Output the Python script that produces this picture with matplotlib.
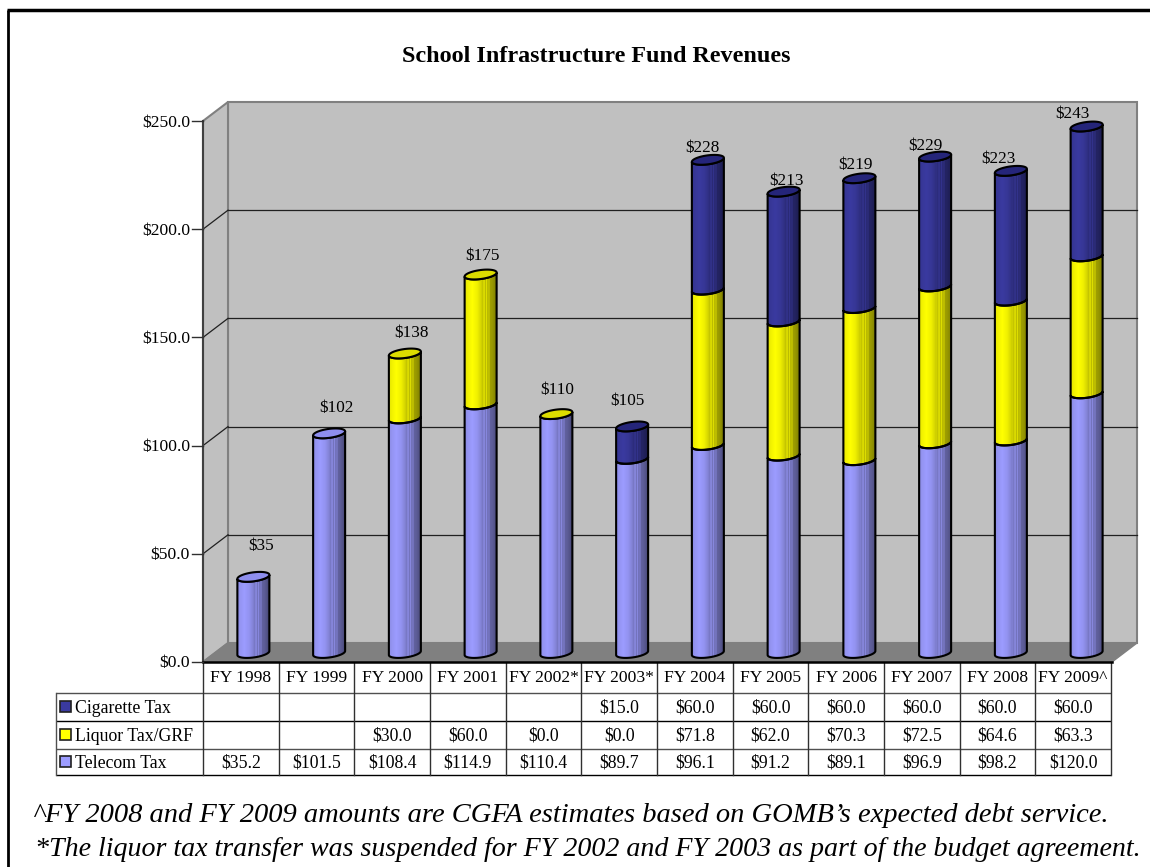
import numpy as np
import matplotlib
matplotlib.use('Agg')
import matplotlib.pyplot as plt
from matplotlib.patches import Polygon, PathPatch, Rectangle
from matplotlib.path import Path

plt.rcParams['font.family'] = ['Liberation Serif', 'DejaVu Serif']

years = ['FY 1998', 'FY 1999', 'FY 2000', 'FY 2001', 'FY 2002*', 'FY 2003*',
         'FY 2004', 'FY 2005', 'FY 2006', 'FY 2007', 'FY 2008', 'FY 2009^']
telecom = [35.2, 101.5, 108.4, 114.9, 110.4, 89.7, 96.1, 91.2, 89.1, 96.9, 98.2, 120.0]
liquor = [None, None, 30.0, 60.0, 0.0, 0.0, 71.8, 62.0, 70.3, 72.5, 64.6, 63.3]
cigarette = [None, None, None, None, None, 15.0, 60.0, 60.0, 60.0, 60.0, 60.0, 60.0]
totals = ['$35', '$102', '$138', '$175', '$110', '$105', '$228', '$213', '$219', '$229', '$223', '$243']
yticks = [0, 50, 100, 150, 200, 250]
series_names = ['Cigarette Tax', 'Liquor Tax/GRF', 'Telecom Tax']

title = 'School Infrastructure Fund Revenues'
note1 = '^FY 2008 and FY 2009 amounts are CGFA estimates based on GOMB\u2019s expected debt service.'
note2 = '*The liquor tax transfer was suspended for FY 2002 and FY 2003 as part of the budget agreement.'

# colours: (side, cap)
TELECOM_C = ('#9C9CFF', '#8E8EEE')
LIQUOR_C = ('#FFFF00', '#DCDC00')
CIG_C = ('#3A3AA0', '#25257A')

# pixel layout of the front plane
LEFT, RIGHT, BOTTOM, TOP = 203, 1112, 662, 121
W, H = 1150, 867
DEPTH_X, DEPTH_Y = 25, 19
PX_X = 12 / (RIGHT - LEFT)
PX_Y = 250 / (BOTTOM - TOP)

# how far each total label sits above its bar top (px), plus a sideways nudge
label_up = [31, 25, 21, 19, 24, 25, 12, 11, 13, 11, 12, 12]
label_side = [8, 7, 7, 2, 1, -5, -5, 3, -4, -10, -12, -14]

fig = plt.figure(figsize=(W / 100, H / 100), dpi=100)
pg = fig.add_axes([0, 0, 1, 1])
pg.set_xlim(0, W)
pg.set_ylim(H, 0)
pg.axis('off')

ax = fig.add_axes([LEFT / W, 1 - BOTTOM / H, (RIGHT - LEFT) / W, (BOTTOM - TOP) / H])
ax.patch.set_alpha(0)
ax.axis('off')

ddx, ddy = DEPTH_X * PX_X, DEPTH_Y * PX_Y
GREY = '#808080'

# walls and floor
ax.add_patch(Rectangle((ddx, ddy), 12, 250, fc='#C0C0C0', ec=GREY, lw=1.5, zorder=1, clip_on=False))
ax.add_patch(Polygon([(0, 0), (ddx, ddy), (ddx, 250 + ddy), (0, 250)], fc='#C0C0C0', ec=GREY, lw=1.5,
                     zorder=1, clip_on=False))
ax.add_patch(Polygon([(0, 0), (ddx, ddy), (12 + ddx, ddy), (12, 0)], fc=GREY, ec=GREY, lw=1, zorder=2,
                     clip_on=False))
for t in yticks[1:-1]:
    ax.plot([ddx, 12 + ddx], [t + ddy, t + ddy], color='#202020', lw=0.9, zorder=2, clip_on=False)
    ax.plot([0, ddx], [t, t + ddy], color='#202020', lw=0.9, zorder=2, clip_on=False)
ax.plot([0, 0], [0, 250], color='#404040', lw=1.5, zorder=3, clip_on=False)
ax.plot([0, 12], [0, 0], color='black', lw=1.8, zorder=3, clip_on=False)
for t in yticks:
    ax.plot([-11 * PX_X, 0], [t, t], color='#303030', lw=1, zorder=3, clip_on=False)
    ax.text(-13 * PX_X, t - 1.5 * PX_Y, '$%.1f' % t, ha='right', va='center', fontsize=12.6, zorder=5)

# cylinder shading, left to right
shade_x = [0, .08, .22, .38, .5, .56, .6, .64, .68, .72, .76, .8, .86, .94, 1]
shade_v = [.9, .95, 1.0, .94, .84, .76, .92, .72, .88, .68, .8, .62, .6, .54, .46]
shade = np.interp(np.linspace(0, 1, 32), shade_x, shade_v)

BAR_A, BAR_B, BAR_TILT = 16, 4.5, 2  # half width, half height, tilt of the ellipse (px)


def arc(cx, cy, t0, t1, n=30):
    t = np.linspace(t0, t1, n)
    return np.column_stack([cx + BAR_A * PX_X * np.cos(t),
                            cy + (BAR_B * np.sin(t) + BAR_TILT * np.cos(t)) * PX_Y])


def draw_segment(cx, y0, y1, color, z):
    low0 = arc(cx, y0, np.pi, 2 * np.pi)
    low1 = arc(cx, y1, 2 * np.pi, np.pi)
    pts = np.vstack([low0, low1, low0[:1]])
    path = Path(pts, [Path.MOVETO] + [Path.LINETO] * (len(pts) - 2) + [Path.CLOSEPOLY])
    edge = PathPatch(path, fc='none', ec='black', lw=1.5, zorder=z + 0.2, clip_on=False)
    ax.add_patch(edge)
    rgb = np.array(matplotlib.colors.to_rgb(color))
    img = np.clip(shade[None, :, None] * rgb[None, None, :], 0, 1)
    xl, xr = cx - BAR_A * PX_X, cx + BAR_A * PX_X
    im = ax.imshow(img, extent=(xl, xr, y0 - 10 * PX_Y, y1 + 10 * PX_Y), aspect='auto', zorder=z,
                   interpolation='nearest')
    clip = PathPatch(path, transform=ax.transData, fc='none', ec='none')
    im.set_clip_path(clip)


base_shift = (0.5 * DEPTH_X) * PX_X  # bars stand in the middle of the floor
base_y = (BOTTOM - 653) * PX_Y
for i in range(len(years)):
    cx = i + 0.5 + base_shift
    y = base_y
    cap = None
    for vals, col in ((telecom, TELECOM_C), (liquor, LIQUOR_C), (cigarette, CIG_C)):
        v = vals[i]
        if v is None:
            continue
        if v > 0:
            draw_segment(cx, y, y + v, col[0], 4)
        y += v
        cap = col[1]
    top = arc(cx, y, 0, 2 * np.pi, 60)
    ax.add_patch(Polygon(top, closed=True, fc=cap, ec='black', lw=1.5, zorder=4.5, clip_on=False))
    ax.text(cx + label_side[i] * PX_X, y + label_up[i] * PX_Y, totals[i], ha='center', va='center',
            fontsize=12.4, zorder=6)

ax.set_xlim(0, 12)
ax.set_ylim(0, 250)

# frame
pg.plot([8, 8], [10, H], color='black', lw=2, solid_capstyle='butt')
pg.plot([7, W], [10, 10], color='black', lw=2.5, solid_capstyle='butt')
pg.text(596, 57, title, ha='center', va='center', fontsize=17.4, fontweight='bold')

# data table
TAB_L, TAB_R = 56, 1111
ROWS = [662, 692.5, 720.5, 748.5, 775]
col_w = (TAB_R - LEFT) / len(years)
for y, c in zip(ROWS[1:], ['#505050', 'black', '#505050', 'black']):
    pg.plot([TAB_L, TAB_R], [y, y], color=c, lw=1, solid_capstyle='butt')
pg.plot([TAB_L, TAB_L], [ROWS[1], ROWS[-1]], color='#505050', lw=1)
for i in range(len(years) + 1):
    pg.plot([LEFT + i * col_w] * 2, [ROWS[0], ROWS[-1]], color='#303030', lw=1)
for i, yr in enumerate(years):
    cx = LEFT + (i + 0.5) * col_w
    pg.text(cx, 678, yr, ha='center', va='center', fontsize=12.6)
    for r, vals in enumerate((cigarette, liquor, telecom)):
        if vals[i] is not None:
            pg.text(cx, (ROWS[r + 1] + ROWS[r + 2]) / 2 + 1.5, '$%.1f' % vals[i], ha='center', va='center',
                    fontsize=12.8)
for r, (name, col) in enumerate(zip(series_names, (CIG_C, LIQUOR_C, TELECOM_C))):
    yc = (ROWS[r + 1] + ROWS[r + 2]) / 2
    pg.add_patch(Rectangle((60, yc - 5.5), 11, 11, fc=col[0], ec='#202020', lw=1.2))
    pg.text(75, yc + 2, name, ha='left', va='center', fontsize=12.8)

# footnotes
pg.text(33, 815, note1, ha='left', va='center', fontsize=20.5, style='italic', clip_on=False)
pg.text(35, 849, note2, ha='left', va='center', fontsize=20.2, style='italic', clip_on=False)

plt.savefig('out.png', dpi=100)
